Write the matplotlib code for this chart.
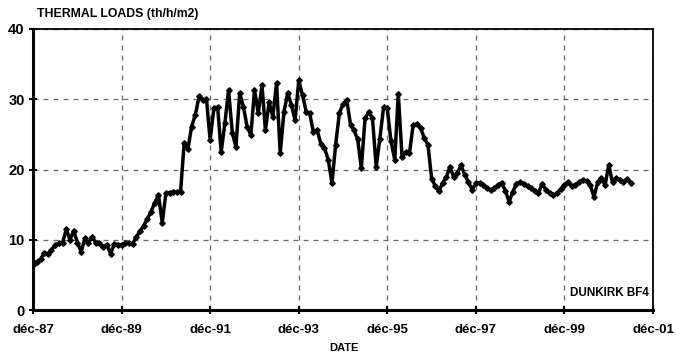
import matplotlib
matplotlib.use("Agg")
import matplotlib.pyplot as plt
import pandas as pd

plt.rcParams['font.family'] = ['Liberation Sans', 'DejaVu Sans']

# Monthly thermal loads from Dec 1987
start_month = "1987-12-01"
thermal_loads = [
    6.4, 6.9, 7.2, 8.1, 8.0, 8.6, 9.2, 9.5, 9.6, 11.5,
    10.0, 11.3, 9.6, 8.3, 10.2, 9.5, 10.4, 9.6, 9.5, 9.0,
    9.3, 8.0, 9.4, 9.3, 9.3, 9.5, 9.5, 9.4, 10.4, 11.2,
    12.0, 13.0, 14.0, 15.3, 16.4, 12.4, 16.6, 16.7, 16.8, 16.8,
    16.8, 23.8, 22.9, 26.1, 27.8, 30.4, 29.9, 30.0, 24.2, 28.7,
    28.9, 22.5, 26.6, 31.3, 25.2, 23.2, 30.9, 28.9, 26.1, 24.9,
    31.3, 28.0, 32.0, 25.6, 29.6, 27.5, 32.3, 22.3, 28.2, 30.9,
    29.2, 27.0, 32.7, 30.6, 28.2, 28.0, 25.3, 25.6, 23.7, 23.1,
    21.4, 18.1, 23.5, 28.0, 29.3, 29.9, 26.4, 25.6, 24.3, 20.2,
    27.3, 28.2, 27.3, 20.4, 24.4, 28.9, 28.7, 24.0, 21.4, 30.8,
    21.8, 22.5, 22.3, 26.3, 26.5, 25.9, 24.5, 23.5, 18.7, 17.6,
    16.9, 18.1, 18.9, 20.4, 18.9, 19.5, 20.6, 19.2, 18.2, 17.1,
    18.1, 18.1, 17.8, 17.4, 17.1, 17.3, 17.8, 18.1, 17.0, 15.4,
    16.8, 18.0, 18.2, 18.0, 17.6, 17.4, 17.0, 16.6, 18.0, 17.1,
    16.6, 16.3, 16.6, 17.2, 17.8, 18.2, 17.6, 17.8, 18.2, 18.5,
    18.3, 17.8, 16.1, 18.2, 18.8, 17.8, 20.6, 18.2, 18.8, 18.5,
    18.2, 18.6, 18.1,
]
dates = pd.date_range(start_month, periods=len(thermal_loads), freq="MS")

tick_dates = ["1987-12-01", "1989-12-01", "1991-12-01", "1993-12-01",
              "1995-12-01", "1997-12-01", "1999-12-01", "2001-12-01"]
tick_labels = ["déc-87", "déc-89", "déc-91", "déc-93",
               "déc-95", "déc-97", "déc-99", "déc-01"]
y_ticks = [0, 10, 20, 30, 40]

fig = plt.figure(figsize=(6.76, 3.53), dpi=100)
ax = fig.add_axes([33/676, 1-310/353, (653-33)/676, (310-29)/353])

ax.plot(dates, thermal_loads, color="black", lw=2.5, marker="D", ms=2.8,
        mfc="black", mec="black", zorder=3)

tks = pd.to_datetime(tick_dates)
ax.set_xlim(tks[0], tks[-1])
ax.set_ylim(0, 40)
ax.set_xticks(tks)
ax.set_xticklabels(tick_labels, fontsize=9.5, fontweight="bold")
ax.set_yticks(y_ticks)
ax.set_yticklabels([str(v) for v in y_ticks], fontsize=10.5, fontweight="bold")
ax.tick_params(axis="x", direction="inout", length=6, width=1.5, pad=7)
ax.tick_params(axis="y", direction="inout", length=6, width=1.5, pad=3)

ax.grid(True, color="#666666", linestyle=(0, (4, 4)), linewidth=0.9)
ax.set_axisbelow(True)

ax.spines["left"].set_linewidth(2.2)
ax.spines["bottom"].set_linewidth(2.2)
ax.spines["top"].set_linewidth(1.3)
ax.spines["right"].set_linewidth(1.3)

fig.text(37/676, 1-14/353, "THERMAL LOADS (th/h/m2)", fontsize=8.8, fontweight="bold",
         ha="left", va="center")
fig.text(344/676, 1-348/353, "DATE", fontsize=8, fontweight="bold",
         ha="center", va="center")
ax.text(0.993, 0.04, "DUNKIRK BF4", transform=ax.transAxes, fontsize=8.4,
        fontweight="bold", ha="right", va="bottom")

fig.savefig("out.png", dpi=100)
